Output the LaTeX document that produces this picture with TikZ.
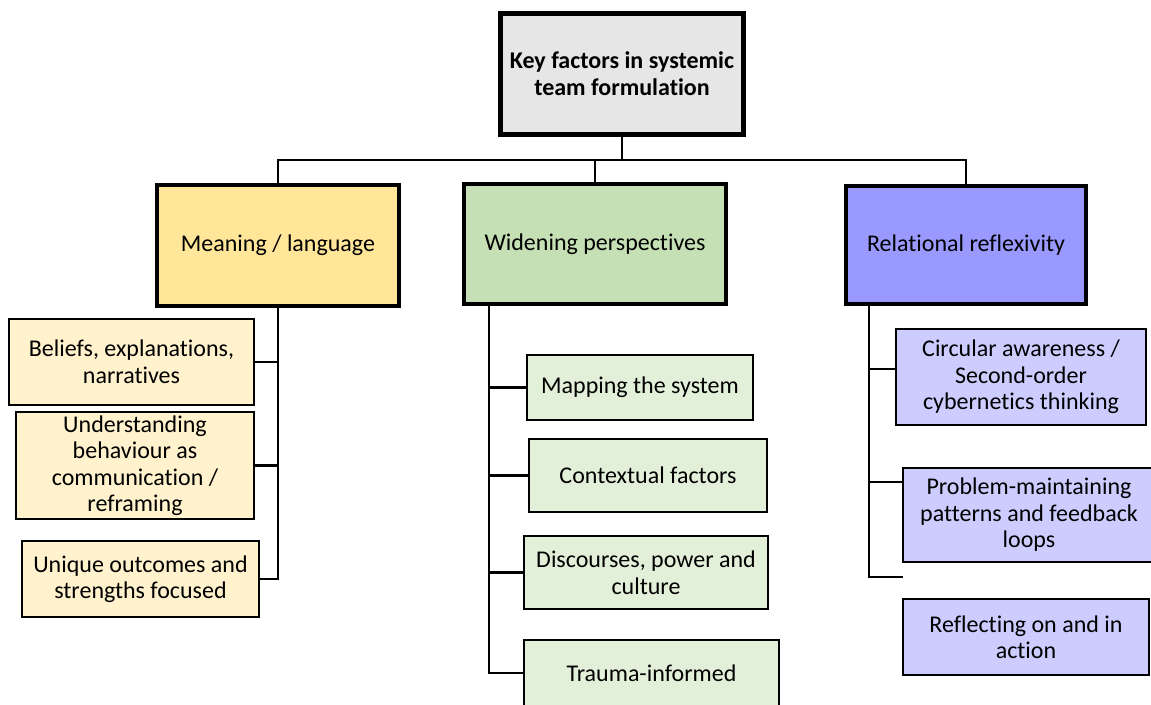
\documentclass[tikz,border=0pt]{standalone}
\usepackage{fontspec}
\setmainfont{Carlito}[Ligatures=NoCommon]
\begin{document}
\begin{tikzpicture}[x=1pt,y=-1pt,
  txt/.style={font=\fontsize{24}{26.5}\selectfont, align=center, inner sep=0pt, text=black},
  box/.style={txt, draw=black, rectangle},
  rootbox/.style={box, line width=5pt, fill=rootgray, font=\fontsize{24}{26.5}\selectfont\bfseries},
  headbox/.style={box, line width=4pt},
  itembox/.style={box, line width=2pt},
  link/.style={draw=black, line width=2.5pt},
]
\definecolor{rootgray}{HTML}{E6E6E6}
\definecolor{yel}{HTML}{FFE699}
\definecolor{yellt}{HTML}{FFF2CC}
\definecolor{grn}{HTML}{C5E0B4}
\definecolor{grnlt}{HTML}{E2F0D9}
\definecolor{blu}{HTML}{9999FF}
\definecolor{blult}{HTML}{CCCCFF}

\useasboundingbox (0,0) rectangle (1151,704);

% root
\node[rootbox, minimum width=243pt, minimum height=121pt] (root) at (622,73.5)
  {Key factors in systemic\\team formulation};

% second level
\node[headbox, fill=yel, minimum width=242pt, minimum height=121pt] (meaning) at (278,245.5) {Meaning / language};
\node[headbox, fill=grn, minimum width=262pt, minimum height=120pt] (widening) at (595,244) {Widening perspectives};
\node[headbox, fill=blu, minimum width=240pt, minimum height=118pt] (relational) at (966,245) {Relational reflexivity};

% meaning / language items
\node[itembox, fill=yellt, minimum width=245pt, minimum height=86pt] (beliefs) at (131.5,362) {Beliefs, explanations,\\narratives};
\node[itembox, fill=yellt, minimum width=238pt, minimum height=107pt] (understanding) at (135,465.5) {Understanding\\behaviour as\\communication /\\reframing};
\node[itembox, fill=yellt, minimum width=237pt, minimum height=76pt] (unique) at (140.5,579) {Unique outcomes and\\strengths focused};

% widening perspectives items
\node[itembox, fill=grnlt, minimum width=226pt, minimum height=65pt] (mapping) at (640,387.5) {Mapping the system};
\node[itembox, fill=grnlt, minimum width=238pt, minimum height=73pt] (contextual) at (648,475.5) {Contextual factors};
\node[itembox, fill=grnlt, minimum width=244pt, minimum height=73pt] (discourses) at (646,572.5) {Discourses, power and\\culture};
\node[itembox, fill=grnlt, minimum width=255pt, minimum height=66pt] (trauma) at (651.5,673) {Trauma-informed};

% relational reflexivity items
\node[itembox, fill=blult, minimum width=250pt, minimum height=96pt] (circular) at (1021,377) {Circular awareness /\\Second-order\\cybernetics thinking};
\node[itembox, fill=blult, minimum width=252pt, minimum height=94pt] (problem) at (1029,515) {Problem-maintaining\\patterns and feedback\\loops};
\node[itembox, fill=blult, minimum width=246pt, minimum height=76pt] (reflecting) at (1026,637) {Reflecting on and in\\action};

% spine points
\coordinate (bus) at (622,160);
\coordinate (gspine) at (489,305);
\coordinate (bspine) at (869,305);
\coordinate (bend) at (903,577);

% root to second level
\draw[link] (root.south) -- (bus);
\draw[link] (meaning.north) |- (relational.north |- bus) -- (relational.north);
\draw[link] (widening.north) -- (widening.north |- bus);

% meaning / language branches
\draw[link] (meaning.south) |- (unique.east);
\draw[link] (beliefs.east) -- (beliefs.east -| meaning.south);
\draw[link] (understanding.east) -- (understanding.east -| meaning.south);

% widening perspectives branches
\draw[link] (gspine) |- (trauma.west);
\draw[link] (mapping.west) -- (mapping.west -| gspine);
\draw[link] (contextual.west) -- (contextual.west -| gspine);
\draw[link] (discourses.west) -- (discourses.west -| gspine);

% relational reflexivity branches
\draw[link] (bspine) |- (bend);
\draw[link] ([yshift=8pt]circular.west) -- ([yshift=8pt]circular.west -| bspine);
\draw[link] ([yshift=33pt]problem.west) -- ([yshift=33pt]problem.west -| bspine);
\end{tikzpicture}
\end{document}
